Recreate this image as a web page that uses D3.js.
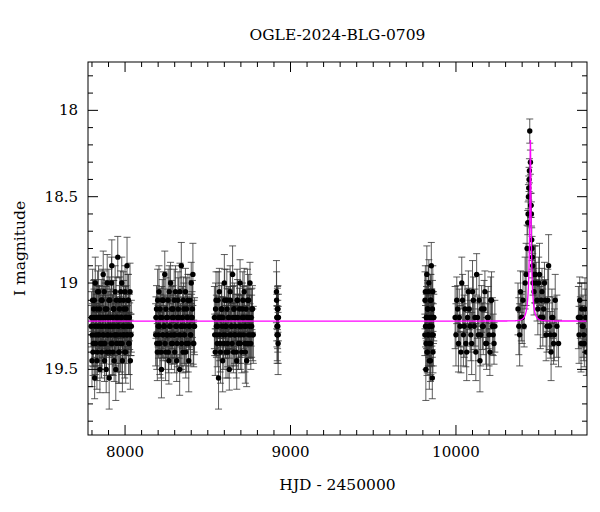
<!DOCTYPE html>
<html><head><meta charset="utf-8">
<script src="https://cdn.jsdelivr.net/npm/d3@7"></script>
<style>body{margin:0;background:#fff}text{font-family:"DejaVu Serif","Liberation Serif",serif}</style>
</head><body><svg id="c" width="600" height="512"></svg>
<script>
const title = "OGLE-2024-BLG-0709";
const xLabel = "HJD - 2450000";
const yLabel = "I magnitude";
const xTicks = [8000, 9000, 10000];
const yTicks = [18, 18.5, 19, 19.5];
const hjd = [
7795,7800,7804,7808,7812,7816,7820,7824,7828,7832,7836,7840,7844,7848,7852,7856,7860,7864,7868,7872,7876,7880,7884,7888,7892,7896,7900,7904,7908,7912,7916,7920,7924,7928,7932,7936,7940,7944,7948,7952,7956,7960,7964,7968,7972,7976,7980,7984,7988,7992,7996,8000,8004,8008,8012,8016,8020,8024,8028,8032,8036,
7797,7802,7806,7810,7814,7818,7822,7826,7830,7834,7838,7842,7846,7850,7854,7858,7862,7866,7870,7874,7878,7882,7886,7890,7894,7898,7902,7906,7910,7914,7918,7922,7926,7930,7934,7938,7942,7946,7950,7954,7958,7962,7966,7970,7974,7978,7982,7986,7990,7994,7998,8002,8006,8010,8014,8018,8022,8026,8030,8034,8038,
8185,8190,8195,8200,8205,8210,8215,8220,8225,8230,8235,8240,8245,8250,8255,8260,8265,8270,8275,8280,8285,8290,8295,8300,8305,8310,8315,8320,8325,8330,8335,8340,8345,8350,8355,8360,8365,8370,8375,8380,8385,8390,8395,8400,8405,8410,8415,8420,
8187,8192,8197,8202,8207,8212,8217,8222,8227,8232,8237,8242,8247,8252,8257,8262,8267,8272,8277,8282,8287,8292,8297,8302,8307,8312,8317,8322,8327,8332,8337,8342,8347,8352,8357,8362,8367,8372,8377,8382,8387,8392,8397,8402,8407,8412,8417,
8540,8545,8550,8555,8560,8565,8570,8575,8580,8585,8590,8595,8600,8605,8610,8615,8620,8625,8630,8635,8640,8645,8650,8655,8660,8665,8670,8675,8680,8685,8690,8695,8700,8705,8710,8715,8720,8725,8730,8735,8740,8745,8750,8755,8760,8765,8770,8775,
8542,8547,8552,8557,8562,8567,8572,8577,8582,8587,8592,8597,8602,8607,8612,8617,8622,8627,8632,8637,8642,8647,8652,8657,8662,8667,8672,8677,8682,8687,8692,8697,8702,8707,8712,8717,8722,8727,8732,8737,8742,8747,8752,8757,8762,8767,8772,
8915,8917,8919,8921,8923,8925,8927,8916,8918,8920,8922,8924,8926,
9812,9815,9818,9821,9824,9827,9830,9833,9836,9839,9842,9845,9848,9851,9854,9857,9860,9863,9866,
9813,9816,9819,9822,9825,9828,9831,9834,9837,9840,9843,9846,9849,9852,9855,9858,9861,9864,
9995,10005,10015,10025,10035,10045,10055,10065,10075,10085,10095,10105,10115,10125,10135,10145,10155,10165,10175,10185,10195,10205,10215,10225,10235,
10000,10010,10020,10030,10040,10050,10060,10070,10080,10090,10100,10110,10120,10130,10140,10150,10160,10170,10180,10190,10200,10210,10220,10230,
10375,10385,10395,10405,10412,10418,10424,10430,10434,10438,10442,10446,10450,10454,10458,10462,10466,10472,10480,10490,10500,10510,10520,10530,10540,10550,10560,10570,10580,10590,10600,10610,10620,
10380,10390,10400,10436,10440,10444,10452,10456,10460,10464,10476,10485,10495,10505,10515,10525,10535,10545,10555,10565,10575,10585,10595,
10740,10748,10756,10764,10772,10780,10788,10744,10752,10760,10768,10776,10784];
const mag = [
19.25,19.45,19.1,19.35,19.2,19.55,19.0,19.3,19.15,19.4,19.25,19.05,19.3,19.5,19.2,19.1,19.35,19.25,18.95,19.3,19.45,19.15,19.2,19.4,19.0,19.3,19.25,19.55,19.1,19.2,19.35,18.9,19.25,19.4,19.15,19.3,19.05,19.5,19.2,19.3,18.85,19.25,19.4,19.1,19.35,19.2,19.0,19.45,19.3,19.15,19.25,19.05,19.4,19.2,18.9,19.3,19.1,19.35,19.25,19.45,19.3,
19.2,19.3,19.4,19.15,19.1,19.25,19.35,19.2,19.45,19.05,19.3,19.2,19.15,19.35,19.25,19.4,19.1,19.3,19.2,19.05,19.35,19.25,19.5,19.15,19.3,19.2,19.1,19.4,19.25,19.3,19.0,19.35,19.2,19.15,19.45,19.25,19.3,19.1,19.35,19.2,19.25,19.4,19.15,19.3,19.05,19.2,19.35,19.25,19.1,19.3,19.4,19.2,19.15,19.3,19.25,19.1,19.35,19.2,19.05,19.3,19.25,
19.3,19.15,19.4,19.25,19.05,19.35,19.2,19.5,19.1,19.3,19.25,18.95,19.4,19.2,19.3,19.1,19.45,19.25,19.0,19.35,19.2,19.15,19.3,19.4,19.05,19.25,19.35,19.1,19.2,19.5,19.3,18.9,19.25,19.4,19.15,19.3,19.05,19.35,19.2,19.1,19.45,19.25,19.3,19.0,19.2,18.95,19.35,19.25,
19.2,19.35,19.1,19.3,19.25,19.15,19.4,19.2,19.3,19.1,19.25,19.35,19.15,19.3,19.2,19.4,19.05,19.25,19.3,19.15,19.35,19.2,19.1,19.3,19.25,19.45,19.2,19.15,19.3,19.05,19.25,19.35,19.2,19.1,19.3,19.25,19.4,19.15,19.2,19.35,19.25,19.1,19.3,19.2,19.15,19.35,19.25,
19.2,19.4,19.1,19.3,19.25,19.55,19.05,19.35,19.2,19.15,19.45,19.3,19.0,19.25,19.4,19.1,19.35,19.2,19.5,19.05,19.3,19.25,18.95,19.4,19.15,19.3,19.2,19.45,19.1,19.35,19.25,19.0,19.3,19.4,19.15,19.2,19.05,19.35,19.25,19.45,19.1,19.3,19.2,19.0,19.35,19.25,19.15,19.3,
19.3,19.15,19.25,19.35,19.1,19.2,19.3,19.4,19.15,19.25,19.2,19.35,19.1,19.3,19.25,19.15,19.4,19.2,19.3,19.1,19.25,19.35,19.2,19.15,19.3,19.25,19.4,19.1,19.2,19.3,19.15,19.35,19.25,19.2,19.1,19.3,19.25,19.4,19.15,19.2,19.35,19.1,19.25,19.3,19.2,19.15,19.3,
19.05,19.2,19.3,19.15,19.25,19.35,19.2,19.1,19.25,19.3,19.2,19.15,19.3,
19.3,19.05,19.5,19.2,18.95,19.4,19.15,19.3,19.0,19.45,19.25,19.1,19.35,18.9,19.2,19.55,19.05,19.3,19.2,
19.1,19.25,19.35,19.2,19.4,19.15,19.3,19.05,19.25,19.35,19.2,19.45,19.1,19.3,19.25,19.15,19.4,19.2,
19.2,19.1,19.35,19.25,19.0,19.3,19.15,19.4,19.05,19.25,19.35,19.1,19.2,18.95,19.3,19.45,19.15,19.25,19.05,19.35,19.2,19.4,19.1,19.3,19.25,
19.3,19.15,19.2,19.4,19.1,19.25,19.35,19.2,19.15,19.3,19.05,19.25,19.4,19.2,19.1,19.3,19.25,19.15,19.35,19.2,19.3,19.1,19.25,19.35,
19.15,19.3,19.2,19.1,19.25,19.0,18.95,18.8,18.65,18.5,18.4,18.12,18.3,18.55,18.75,18.85,19.0,19.05,18.95,19.1,19.0,19.2,19.05,19.15,19.1,19.25,18.9,19.3,19.2,19.35,19.1,19.25,19.35,
19.25,19.05,19.2,18.6,18.45,18.35,18.55,18.6,18.8,18.9,18.95,19.0,19.15,18.95,19.1,19.2,19.0,19.3,19.1,19.25,19.4,19.2,19.3,
19.2,19.1,19.35,19.25,19.3,19.15,19.4,19.3,19.2,19.15,19.25,19.35,19.2];
const err = hjd.map((d,i)=> (d>10430&&d<10470)?0.07:0.12+0.06*((i*7)%5)/4);

const W=600,H=512,m={l:88,r:13,t:62,b:77};
const svg=d3.select("#c");
const x=d3.scaleLinear().domain([7776,10792]).range([m.l,W-m.r]);
const y=d3.scaleLinear().domain([17.72,19.88]).range([m.t,H-m.b]);
svg.append("defs").append("clipPath").attr("id","cp").append("rect")
 .attr("x",m.l).attr("y",m.t).attr("width",W-m.l-m.r).attr("height",H-m.t-m.b);
const g=svg.append("g").attr("clip-path","url(#cp)");
const eb=g.append("g").attr("stroke","#333").attr("stroke-width",0.8);
hjd.forEach((d,i)=>{
 const xx=x(d),y1=y(mag[i]-err[i]),y2=y(mag[i]+err[i]);
 eb.append("line").attr("x1",xx).attr("x2",xx).attr("y1",y1).attr("y2",y2);
 eb.append("line").attr("x1",xx-3.5).attr("x2",xx+3.5).attr("y1",y1).attr("y2",y1);
 eb.append("line").attr("x1",xx-3.5).attr("x2",xx+3.5).attr("y1",y2).attr("y2",y2);
});
g.selectAll("circle").data(hjd).join("circle").attr("cx",d=>x(d)).attr("cy",(d,i)=>y(mag[i])).attr("r",2.7).attr("fill","#000");
const t0=10450,u0=0.1,tE=24,fs=0.18,base=19.22;
const mt=d3.range(7776,10793,1).concat(d3.range(10400,10500,0.25)).sort((a,b)=>a-b);
const model=mt.map(t=>{const u=Math.hypot(u0,(t-t0)/tE);const A=(u*u+2)/(u*Math.sqrt(u*u+4));return [t,base-2.5*Math.log10(fs*A+1-fs)];});
g.append("path").datum(model).attr("fill","none").attr("stroke","#ff00ff").attr("stroke-width",1.3)
 .attr("d",d3.line().x(d=>x(d[0])).y(d=>y(d[1])));
svg.append("rect").attr("x",m.l).attr("y",m.t).attr("width",W-m.l-m.r).attr("height",H-m.t-m.b).attr("fill","none").attr("stroke","#000");
const tk=svg.append("g").attr("stroke","#000");
d3.range(7800,10800,100).forEach(v=>{const L=v%1000===0?10:5;
 tk.append("line").attr("x1",x(v)).attr("x2",x(v)).attr("y1",H-m.b).attr("y2",H-m.b-L);
 tk.append("line").attr("x1",x(v)).attr("x2",x(v)).attr("y1",m.t).attr("y2",m.t+L);});
d3.range(17.8,19.85,0.1).forEach(v=>{const L=Math.abs(v*2-Math.round(v*2))<0.01?10:5;
 tk.append("line").attr("x1",m.l).attr("x2",m.l+L).attr("y1",y(v)).attr("y2",y(v));
 tk.append("line").attr("x1",W-m.r).attr("x2",W-m.r-L).attr("y1",y(v)).attr("y2",y(v));});
xTicks.forEach(v=>svg.append("text").attr("x",x(v)).attr("y",H-m.b+22).attr("text-anchor","middle").attr("font-size",15).text(v));
yTicks.forEach(v=>svg.append("text").attr("x",m.l-10).attr("y",y(v)+5).attr("text-anchor","end").attr("font-size",15).text(v));
svg.append("text").attr("x",(m.l+W-m.r)/2).attr("y",H-m.b+55).attr("text-anchor","middle").attr("font-size",15.5).text(xLabel);
svg.append("text").attr("transform",`translate(25,${(m.t+H-m.b)/2}) rotate(-90)`).attr("text-anchor","middle").attr("font-size",15.5).text(yLabel);
svg.append("text").attr("x",(m.l+W-m.r)/2).attr("y",40).attr("text-anchor","middle").attr("font-size",15.5).text(title);
</script></body></html>
